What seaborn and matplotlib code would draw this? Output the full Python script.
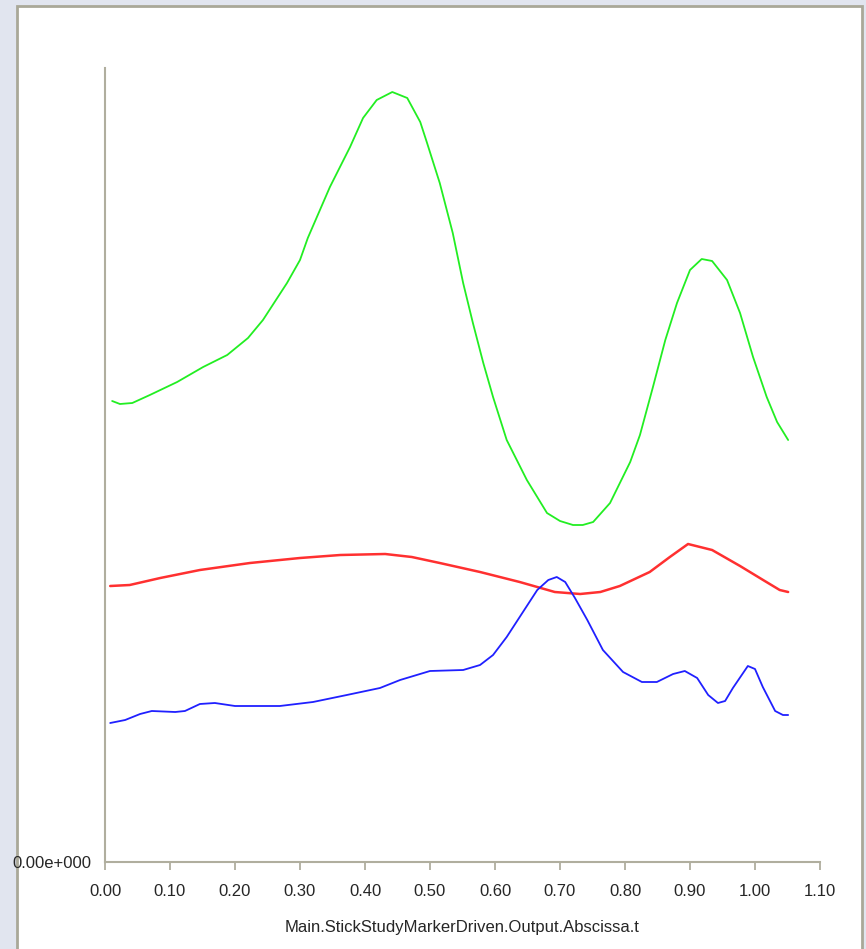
import numpy as np
import pandas as pd
import matplotlib
matplotlib.use('Agg')
import matplotlib.pyplot as plt
import seaborn as sns
from matplotlib.patches import Rectangle

# values (t, value)
green_t = [0.011, 0.023, 0.042, 0.069, 0.111, 0.151, 0.188, 0.220, 0.243, 0.280, 0.300,
           0.312, 0.346, 0.377, 0.397, 0.418, 0.442, 0.465, 0.485, 0.495, 0.515, 0.535,
           0.551, 0.566, 0.582, 0.597, 0.618, 0.649, 0.680, 0.700, 0.720, 0.735, 0.751,
           0.777, 0.808, 0.823, 0.843, 0.862, 0.880, 0.900, 0.918, 0.934, 0.957, 0.977,
           0.997, 1.018, 1.034, 1.051]
green_v = [4.61, 4.58, 4.59, 4.67, 4.80, 4.95, 5.07, 5.24, 5.42, 5.79, 6.02,
           6.24, 6.75, 7.15, 7.44, 7.62, 7.70, 7.64, 7.40, 7.20, 6.79, 6.29,
           5.79, 5.39, 4.99, 4.65, 4.22, 3.82, 3.49, 3.41, 3.37, 3.37, 3.40,
           3.59, 4.00, 4.27, 4.75, 5.22, 5.59, 5.92, 6.03, 6.01, 5.82, 5.49,
           5.05, 4.65, 4.40, 4.22]

red_t = [0.008, 0.038, 0.085, 0.146, 0.223, 0.300, 0.362, 0.431, 0.472, 0.515, 0.577,
         0.638, 0.692, 0.731, 0.762, 0.792, 0.838, 0.869, 0.897, 0.934, 0.977, 1.015,
         1.038, 1.051]
red_v = [2.76, 2.77, 2.84, 2.92, 2.99, 3.04, 3.07, 3.08, 3.05, 2.99, 2.90,
         2.80, 2.70, 2.68, 2.70, 2.76, 2.90, 3.05, 3.18, 3.12, 2.96, 2.81,
         2.72, 2.70]

blue_t = [0.008, 0.031, 0.054, 0.072, 0.108, 0.123, 0.146, 0.169, 0.200, 0.269, 0.320,
          0.372, 0.423, 0.454, 0.500, 0.551, 0.577, 0.597, 0.618, 0.638, 0.665, 0.682,
          0.695, 0.708, 0.723, 0.742, 0.766, 0.797, 0.826, 0.849, 0.874, 0.892, 0.911,
          0.928, 0.943, 0.954, 0.966, 0.989, 1.000, 1.012, 1.031, 1.043, 1.051]
blue_v = [1.39, 1.42, 1.48, 1.51, 1.50, 1.51, 1.58, 1.59, 1.56, 1.56, 1.60,
          1.67, 1.74, 1.82, 1.91, 1.92, 1.97, 2.07, 2.25, 2.45, 2.72, 2.82,
          2.85, 2.80, 2.64, 2.42, 2.12, 1.90, 1.80, 1.80, 1.88, 1.91, 1.84,
          1.67, 1.59, 1.61, 1.74, 1.96, 1.93, 1.75, 1.51, 1.47, 1.47]

x_ticks = [0.0, 0.1, 0.2, 0.3, 0.4, 0.5, 0.6, 0.7, 0.8, 0.9, 1.0, 1.1]
x_label = 'Main.StickStudyMarkerDriven.Output.Abscissa.t'
y_label0 = '0.00e+000'

sns.set_style('white')
plt.rcParams['font.family'] = ['Liberation Sans Narrow', 'Liberation Sans', 'DejaVu Sans']

fig = plt.figure(figsize=(8.66, 9.49), dpi=100)
fig.patch.set_facecolor('#e1e5ef')
# white panel with grey border, behind everything
fig.patches.append(Rectangle((17 / 866, -0.01), (862 - 17) / 866, 1 - 6 / 949 + 0.01,
                             transform=fig.transFigure, facecolor='white',
                             edgecolor='#a9a898', linewidth=2, zorder=-10))

ax = fig.add_axes([105 / 866, 1 - 862 / 949, (820 - 105) / 866, (862 - 68) / 949])
ax.set_facecolor('none')

sns.lineplot(x=green_t, y=green_v, ax=ax, color='#22ee22', lw=1.3, estimator=None, sort=False)
sns.lineplot(x=red_t, y=red_v, ax=ax, color='#ff3030', lw=1.8, estimator=None, sort=False)
sns.lineplot(x=blue_t, y=blue_v, ax=ax, color='#2020ff', lw=1.3, estimator=None, sort=False)

ax.set_xlim(0, 1.10)
ax.set_ylim(0, 7.94)
ax.set_xticks(x_ticks)
ax.set_xticklabels([f'{v:.2f}' for v in x_ticks], fontsize=12)
ax.set_yticks([0])
ax.set_yticklabels([y_label0], fontsize=12)
ax.tick_params(axis='x', direction='out', length=6, width=1.3, color='#b0ae9e', pad=10, bottom=True)
ax.tick_params(axis='y', length=0, pad=10)
ax.set_xlabel(x_label, fontsize=12, labelpad=15)
ax.set_ylabel('')

for s in ['top', 'right']:
    ax.spines[s].set_visible(False)
for s in ['left', 'bottom']:
    ax.spines[s].set_color('#b0ae9e')
    ax.spines[s].set_linewidth(1.5)

fig.savefig('out.png', dpi=100)
